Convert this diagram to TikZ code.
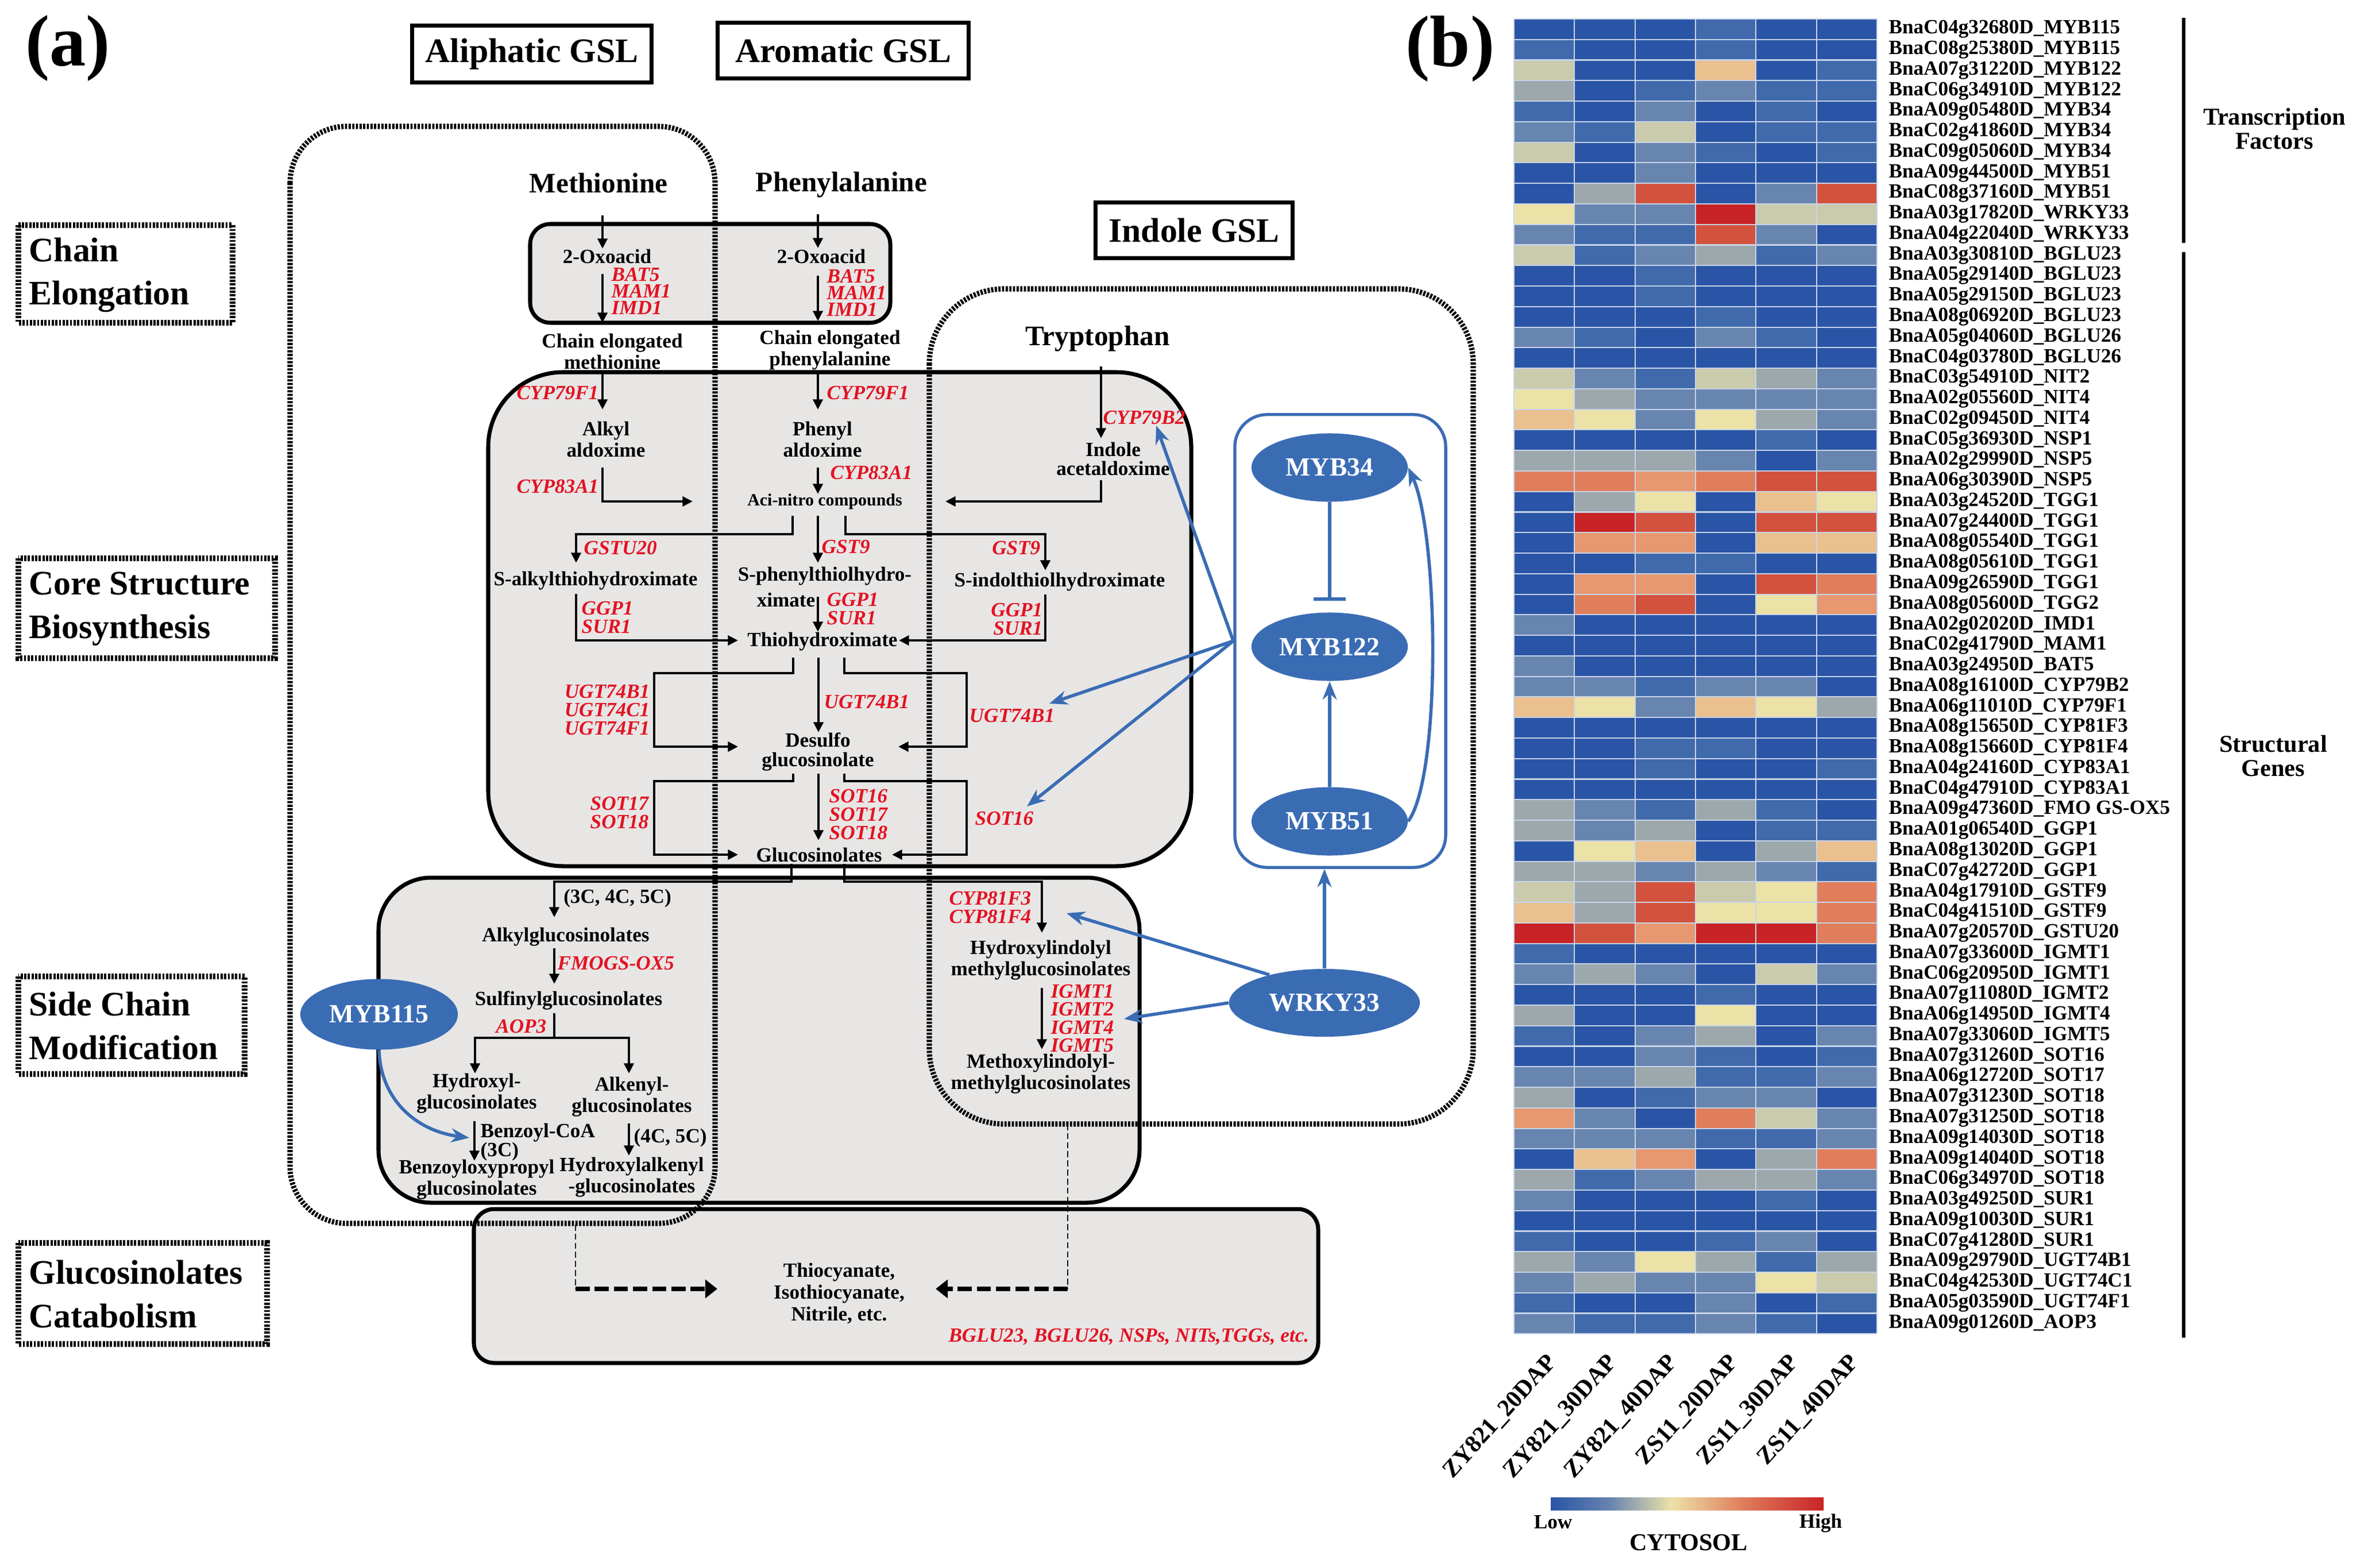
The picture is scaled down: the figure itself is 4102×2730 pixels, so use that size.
\documentclass[tikz,border=0pt]{standalone}
\usepackage{fontspec}
\setmainfont{Liberation Serif}
\usetikzlibrary{arrows.meta,shapes.geometric}
\definecolor{gbox}{RGB}{231,230,229}
\definecolor{gred}{RGB}{228,18,34}
\definecolor{mblue}{RGB}{58,108,180}
\definecolor{hB}{RGB}{42,85,166}
\definecolor{hb}{RGB}{64,106,172}
\definecolor{hg}{RGB}{104,133,176}
\definecolor{hs}{RGB}{156,168,172}
\definecolor{hy}{RGB}{202,202,172}
\definecolor{hl}{RGB}{236,226,168}
\definecolor{hp}{RGB}{234,192,142}
\definecolor{hq}{RGB}{231,152,112}
\definecolor{ho}{RGB}{224,126,92}
\definecolor{hr}{RGB}{211,82,62}
\definecolor{hR}{RGB}{200,35,38}
\definecolor{hgrid}{RGB}{200,212,232}
\pgfdeclarehorizontalshading{cbar}{100bp}{color(0bp)=(hB); color(25bp)=(hB); color(36bp)=(hg); color(47bp)=(hl); color(60bp)=(ho); color(75bp)=(hR); color(100bp)=(hR)}
\begin{document}
\begin{tikzpicture}[x=0.01cm,y=-0.01cm,
  cmp/.style={font=\fontsize{10}{10.5}\selectfont\bfseries, align=center, inner sep=0pt},
  big/.style={font=\fontsize{14}{16}\selectfont\bfseries, inner sep=0pt},
  gene/.style={font=\fontsize{10}{9}\selectfont\bfseries\itshape, text=gred, inner sep=0pt},
  arr/.style={line width=1.2pt, -{Triangle[length=5pt,width=4.8pt]}},
  ln/.style={line width=1.2pt},
  gbx/.style={draw=black, line width=2pt, fill=gbox},
  dotbox/.style={draw=black, line width=2.6pt, dash pattern=on 1.1pt off 0.7pt},
  ttl/.style={draw=black, line width=2pt, font=\fontsize{17}{20}\selectfont\bfseries, inner sep=0pt},
  ell/.style={ellipse, fill=mblue, text=white, font=\fontsize{13}{14}\selectfont\bfseries, inner sep=0pt},
  barr/.style={draw=mblue, line width=1.6pt, -{Stealth[length=9pt,width=7pt]}},
  lbl/.style={font=\fontsize{17}{21.5}\selectfont\bfseries, align=left, inner sep=0pt, anchor=west},
  thindash/.style={line width=0.8pt, dash pattern=on 3pt off 1.5pt},
  thickdash/.style={line width=2.4pt, dash pattern=on 7pt off 2.5pt, -{Triangle[length=6pt,width=9pt]}},
  hlab/.style={font=\fontsize{10}{11}\selectfont\bfseries, inner sep=0pt, anchor=west},
]
\fill[white] (0,0) rectangle (4102,2730);
\useasboundingbox (0,0) rectangle (4102,2730);

% ---------- panel labels and titles ----------
\node[font=\fontsize{36}{40}\selectfont\bfseries, inner sep=0pt] (pa) at (118,84) {(a)};
\node[font=\fontsize{36}{40}\selectfont\bfseries, inner sep=0pt] (pb) at (2525,85) {(b)};
\node[ttl, minimum width=4.17cm, minimum height=0.99cm] (tAli) at (926,94) {Aliphatic GSL};
\node[ttl, minimum width=4.37cm, minimum height=0.97cm] (tAro) at (1468,88) {Aromatic GSL};
\node[ttl, minimum width=3.42cm, minimum height=0.97cm] (tInd) at (2079,401) {Indole GSL};

% ---------- left stage labels ----------
\draw[dotbox] (32,392) rectangle (405,562);
\node[lbl] (lce) at (50,479) {Chain\\Elongation};
\draw[dotbox] (32,972) rectangle (479,1146);
\node[lbl] (lcs) at (50,1060) {Core Structure\\Biosynthesis};
\draw[dotbox] (32,1700) rectangle (426,1870);
\node[lbl] (lsc) at (50,1786) {Side Chain\\Modification};
\draw[dotbox] (32,2164) rectangle (465,2340);
\node[lbl] (lgc) at (50,2253) {Glucosinolates\\Catabolism};

% ---------- grey stage boxes ----------
\draw[gbx, rounded corners=10pt] (923,390) rectangle (1550,562);
\draw[gbx, rounded corners=37pt] (850,648) rectangle (2074,1508);
\draw[gbx, rounded corners=26pt] (659,1528) rectangle (1984,2094);
\draw[gbx, rounded corners=10pt] (825,2105) rectangle (2295,2373);

% ---------- dotted group boxes ----------
\draw[dotbox, rounded corners=28pt] (505,220) rectangle (1245,2130);
\draw[dotbox, rounded corners=37pt] (1618,503) rectangle (2565,1957);

% ---------- MYB network box ----------
\node[draw=mblue, line width=1.5pt, rounded corners=16pt, minimum width=3.67cm, minimum height=7.88cm, inner sep=0pt] (mybbox) at (2333.5,1116) {};

% ---------- compound texts ----------
\node[big] (met) at (1042,319) {Methionine};
\node[big] (phen) at (1465,322) {Phenylalanine};
\node[big] (tryp) at (1911,590) {Tryptophan};
\node[cmp] (oxa) at (1057,446) {2-Oxoacid};
\node[cmp] (oxb) at (1430,446) {2-Oxoacid};
\node[cmp] (cea) at (1066,612) {Chain elongated\\methionine};
\node[cmp] (ceb) at (1445,610) {Chain elongated\\phenylalanine};
\node[cmp] (alko) at (1055,765) {Alkyl\\aldoxime};
\node[cmp] (pheo) at (1432,765) {Phenyl\\aldoxime};
\node[cmp, font=\fontsize{10}{9.2}\selectfont\bfseries] (indo) at (1938,799) {Indole\\acetaldoxime};
\node[cmp, font=\fontsize{8.5}{9}\selectfont\bfseries] (aci) at (1436,873) {Aci-nitro compounds};
\node[cmp] (salk) at (1037,1011) {S-alkylthiohydroximate};
\node[cmp] (sphe) at (1436,1003) {S-phenylthiolhydro-};
\node[cmp, anchor=east] (sphe2) at (1420,1044) {ximate};
\node[cmp] (sind) at (1845,1013) {S-indolthiolhydroximate};
\node[cmp] (thio) at (1432,1117) {Thiohydroximate};
\node[cmp, font=\fontsize{10}{9.8}\selectfont\bfseries] (desu) at (1424,1309) {Desulfo\\glucosinolate};
\node[cmp] (gluc) at (1426,1488) {Glucosinolates};
\node[cmp] (c345) at (1075,1564) {(3C, 4C, 5C)};
\node[cmp] (alkg) at (985,1631) {Alkylglucosinolates};
\node[cmp] (sulf) at (990,1742) {Sulfinylglucosinolates};
\node[cmp] (hydg) at (830,1904) {Hydroxyl-\\glucosinolates};
\node[cmp] (alkeg) at (1100,1910) {Alkenyl-\\glucosinolates};
\node[cmp, anchor=west] (bcoa) at (836,1972) {Benzoyl-CoA};
\node[cmp, anchor=west] (c3c) at (836,2005) {(3C)};
\node[cmp] (benz) at (830,2054) {Benzoyloxypropyl\\glucosinolates};
\node[cmp, anchor=west] (c45) at (1103,1981) {(4C, 5C)};
\node[cmp] (hyda) at (1100,2050) {Hydroxylalkenyl\\-glucosinolates};
\node[cmp] (hil) at (1812,1672) {Hydroxylindolyl\\methylglucosinolates};
\node[cmp] (mil) at (1812,1870) {Methoxylindolyl-\\methylglucosinolates};
\node[cmp, font=\fontsize{10}{10.8}\selectfont\bfseries] (cat) at (1461,2252) {Thiocyanate,\\Isothiocyanate,\\Nitrile, etc.};

% ---------- gene labels ----------
\node[gene, anchor=west, align=left, font=\fontsize{10}{8.3}\selectfont\bfseries\itshape] (gA1) at (1064,507) {BAT5\\MAM1\\IMD1};
\node[gene, anchor=west, align=left, font=\fontsize{10}{8.3}\selectfont\bfseries\itshape] (gB1) at (1439,510) {BAT5\\MAM1\\IMD1};
\node[gene, anchor=east] (gA2) at (1043,684) {CYP79F1};
\node[gene, anchor=west] (gB2) at (1439,684) {CYP79F1};
\node[gene, anchor=east] (gA3) at (1043,847) {CYP83A1};
\node[gene, anchor=west] (gB3) at (1445,823) {CYP83A1};
\node[gene, anchor=west] (gC1) at (1920,727) {CYP79B2};
\node[gene, anchor=west] (gA4) at (1016,954) {GSTU20};
\node[gene, anchor=west] (gB4) at (1430,952) {GST9};
\node[gene, anchor=east] (gC4) at (1812,954) {GST9};
\node[gene, anchor=west, align=left] (gA5) at (1012,1075) {GGP1\\SUR1};
\node[gene, anchor=west, align=left] (gB5) at (1439,1060) {GGP1\\SUR1};
\node[gene, anchor=east, align=right] (gC5) at (1816,1078) {GGP1\\SUR1};
\node[gene, anchor=east, align=right] (gA6) at (1132,1236) {UGT74B1\\UGT74C1\\UGT74F1};
\node[gene, anchor=west] (gB6) at (1434,1222) {UGT74B1};
\node[gene, anchor=west] (gC6) at (1687,1246) {UGT74B1};
\node[gene, anchor=east, align=right] (gA7) at (1130,1415) {SOT17\\SOT18};
\node[gene, anchor=west, align=left] (gB7) at (1443,1418) {SOT16\\SOT17\\SOT18};
\node[gene, anchor=west] (gC7) at (1697,1425) {SOT16};
\node[gene, anchor=east, align=right] (gC8) at (1796,1580) {CYP81F3\\CYP81F4};
\node[gene, anchor=west] (gA8) at (970,1677) {FMOGS-OX5};
\node[gene, anchor=east] (gA9) at (952,1787) {AOP3};
\node[gene, anchor=west, align=left] (gC9) at (1829,1773) {IGMT1\\IGMT2\\IGMT4\\IGMT5};
\node[gene, anchor=east] (gcat) at (2280,2328) {BGLU23, BGLU26, NSPs, NITs,TGGs, etc.};

% ---------- black pathway connectors ----------
\coordinate (a1) at (1049,375); \coordinate (a2) at (1049,433);
\coordinate (a3) at (1049,477); \coordinate (a4) at (1049,562);
\coordinate (a5) at (1049,651); \coordinate (a6) at (1049,713);
\coordinate (a7) at (1049,814); \coordinate (a8) at (1206,873);
\draw[arr] (a1) -- (a2); \draw[arr] (a3) -- (a4); \draw[arr] (a5) -- (a6); \draw[arr] (a7) |- (a8);
\coordinate (p1) at (1424,373); \coordinate (p2) at (1424,432);
\coordinate (p3) at (1424,480); \coordinate (p4) at (1424,559);
\coordinate (p5) at (1424,651); \coordinate (p6) at (1424,713);
\coordinate (p7) at (1424,814); \coordinate (p8) at (1424,860);
\draw[arr] (p1) -- (p2); \draw[arr] (p3) -- (p4); \draw[arr] (p5) -- (p6); \draw[arr] (p7) -- (p8);
\coordinate (i1) at (1917,638); \coordinate (i2) at (1917,763);
\coordinate (i3) at (1917,836); \coordinate (i4) at (1646,873);
\draw[arr] (i1) -- (i2); \draw[arr] (i3) |- (i4);
\coordinate (b1) at (1380,898); \coordinate (b1a) at (1003,930); \coordinate (b1e) at (1003,980);
\coordinate (b2) at (1424,898); \coordinate (b2e) at (1424,980);
\coordinate (b3) at (1472,898); \coordinate (b3a) at (1820,930); \coordinate (b3e) at (1820,993);
\draw[arr] (b1) |- (b1a) -- (b1e); \draw[arr] (b2) -- (b2e); \draw[arr] (b3) |- (b3a) -- (b3e);
\coordinate (c1) at (1003,1034); \coordinate (c1e) at (1285,1115);
\coordinate (c2) at (1424,1039); \coordinate (c2e) at (1424,1100);
\coordinate (c3) at (1820,1035); \coordinate (c3e) at (1565,1115);
\draw[arr] (c1) |- (c1e); \draw[arr] (c2) -- (c2e); \draw[arr] (c3) |- (c3e);
\coordinate (d1) at (1381,1145); \coordinate (d1a) at (1139,1172); \coordinate (d1e) at (1285,1300);
\coordinate (d2) at (1425,1145); \coordinate (d2e) at (1425,1275);
\coordinate (d3) at (1470,1145); \coordinate (d3a) at (1683,1172); \coordinate (d3e) at (1564,1300);
\draw[arr] (d1) |- (d1a) |- (d1e); \draw[arr] (d2) -- (d2e); \draw[arr] (d3) |- (d3a) |- (d3e);
\coordinate (e1) at (1381,1347); \coordinate (e1a) at (1139,1360); \coordinate (e1e) at (1285,1488);
\coordinate (e2) at (1425,1347); \coordinate (e2e) at (1425,1463);
\coordinate (e3) at (1470,1347); \coordinate (e3a) at (1683,1360); \coordinate (e3e) at (1553,1488);
\draw[arr] (e1) |- (e1a) |- (e1e); \draw[arr] (e2) -- (e2e); \draw[arr] (e3) |- (e3a) |- (e3e);
\coordinate (f1) at (1378,1504); \coordinate (f1a) at (965,1535); \coordinate (f1e) at (965,1597);
\coordinate (f2) at (1470,1504); \coordinate (f2a) at (1814,1535); \coordinate (f2e) at (1814,1624);
\draw[arr] (f1) |- (f1a) -- (f1e); \draw[arr] (f2) |- (f2a) -- (f2e);
\coordinate (g1) at (965,1651); \coordinate (g1e) at (965,1713);
\coordinate (g2) at (965,1764); \coordinate (g2a) at (965,1807);
\coordinate (g2le) at (827,1869); \coordinate (g2re) at (1095,1869);
\coordinate (g3) at (826,1952); \coordinate (g3e) at (826,2021);
\coordinate (g4) at (1095,1956); \coordinate (g4e) at (1095,2012);
\coordinate (h1) at (1814,1720); \coordinate (h1e) at (1814,1827);
\draw[arr] (g1) -- (g1e); \draw[ln] (g2) -- (g2a);
\draw[arr] (g2a) -| (g2le); \draw[arr] (g2a) -| (g2re);
\draw[arr] (g3) -- (g3e); \draw[arr] (g4) -- (g4e); \draw[arr] (h1) -- (h1e);

% ---------- catabolism dashed connectors ----------
\coordinate (k1) at (1002,2132); \coordinate (k1a) at (1002,2244); \coordinate (k1e) at (1249,2244);
\coordinate (k2) at (1859,1957); \coordinate (k2a) at (1859,2244); \coordinate (k2e) at (1629,2244);
\draw[thindash] (k1) -- (k1a); \draw[thickdash] (k1a) -- (k1e);
\draw[thindash] (k2) -- (k2a); \draw[thickdash] (k2a) -- (k2e);

% ---------- regulators ----------
\node[ell, minimum width=2.72cm, minimum height=1.19cm] (MYB34) at (2315,814) {MYB34};
\node[ell, minimum width=2.72cm, minimum height=1.19cm] (MYB122) at (2315,1126) {MYB122};
\node[ell, minimum width=2.72cm, minimum height=1.19cm] (MYB51) at (2315,1430) {MYB51};
\node[ell, minimum width=3.32cm, minimum height=1.18cm] (WRKY33) at (2306,1746) {WRKY33};
\node[ell, minimum width=2.74cm, minimum height=1.23cm] (MYB115) at (660,1766) {MYB115};

\coordinate (barpt) at (2315,1046);
\draw[draw=mblue, line width=1.6pt, -{Bar[width=16pt,line width=1.6pt]}] (MYB34.south) -- (barpt);
\draw[barr] (MYB51.north) -- (MYB122.south);
\draw[barr] (MYB51.east) .. controls (2510,1350) and (2505,930) .. (MYB34.east);
\draw[barr] (WRKY33.north) -- (WRKY33.north |- mybbox.south);
\coordinate (tB2) at (2013,741); \coordinate (tU) at (1827,1225); \coordinate (tS) at (1788,1404);
\coordinate (tF) at (1857,1590); \coordinate (tI) at (1957,1774); \coordinate (tBz) at (817,1981);
\draw[barr] (mybbox.west) -- (tB2);
\draw[barr] (mybbox.west) -- (tU);
\draw[barr] (mybbox.west) -- (tS);
\draw[barr] (WRKY33.153) -- (tF);
\draw[barr] (WRKY33.west) -- (tI);
\draw[barr] (MYB115.south) .. controls (662,1910) and (720,1968) .. (tBz);

% ---------- heatmap ----------
\foreach \rw [count=\i] in {
{B,B,B,b,B,B},{b,B,B,b,B,B},{y,B,B,p,B,b},{s,B,b,g,b,b},{b,B,g,B,b,B},
{g,b,y,B,b,b},{y,B,g,b,B,b},{B,B,g,B,B,B},{B,s,r,B,g,r},{l,g,g,R,y,y},
{g,b,b,r,g,B},{y,b,g,s,b,g},{B,B,b,B,B,B},{B,B,b,B,B,B},{B,B,B,b,B,B},
{g,b,B,g,b,B},{B,B,B,B,B,B},{y,g,b,y,s,g},{l,s,g,g,g,g},{p,l,g,l,s,g},
{B,B,B,B,b,B},{s,s,s,g,B,g},{o,o,q,o,r,r},{B,s,l,B,p,l},{B,R,r,B,r,r},
{B,q,q,B,p,p},{B,B,b,b,B,B},{B,q,q,B,r,o},{B,o,r,B,l,q},{g,B,B,B,B,B},
{B,B,B,B,B,B},{g,B,B,B,B,B},{g,g,b,g,g,B},{p,l,g,p,l,s},{B,B,B,B,B,B},
{B,B,b,b,B,B},{B,B,b,B,B,b},{B,B,B,B,B,B},{s,g,b,s,b,B},{s,g,s,B,b,b},
{B,l,p,B,s,p},{s,s,g,s,g,b},{y,s,r,y,l,o},{p,s,r,l,l,o},{R,r,q,R,R,o},
{b,B,B,B,B,B},{g,s,g,B,y,g},{B,B,B,b,B,B},{s,B,B,l,B,B},{b,B,g,s,B,g},
{B,B,g,b,B,b},{g,g,s,b,b,g},{s,B,b,g,g,B},{q,g,B,o,y,g},{g,g,g,b,b,g},
{B,p,q,B,s,o},{s,b,g,s,s,g},{g,B,B,B,b,B},{B,B,B,B,B,B},{b,B,B,b,g,B},
{s,g,l,s,b,s},{g,s,g,g,l,y},{b,B,B,g,B,b},{g,b,b,g,b,B}}{
  \foreach \cc [count=\j] in \rw {
    \fill[fill=h\cc] ({2636+(\j-1)*105.33},{33+(\i-1)*35.77}) rectangle ({2636+\j*105.33},{33+\i*35.77});
  }
}
\foreach \j in {0,...,6} \draw[hgrid, line width=0.6pt] ({2636+\j*105.33},33) -- ({2636+\j*105.33},2322);
\foreach \i in {0,...,64} \draw[hgrid, line width=0.6pt] (2636,{33+\i*35.77}) -- (3268,{33+\i*35.77});

\foreach \lab [count=\i] in {
BnaC04g32680D\_MYB115, BnaC08g25380D\_MYB115, BnaA07g31220D\_MYB122, BnaC06g34910D\_MYB122,
BnaA09g05480D\_MYB34, BnaC02g41860D\_MYB34, BnaC09g05060D\_MYB34, BnaA09g44500D\_MYB51,
BnaC08g37160D\_MYB51, BnaA03g17820D\_WRKY33, BnaA04g22040D\_WRKY33, BnaA03g30810D\_BGLU23,
BnaA05g29140D\_BGLU23, BnaA05g29150D\_BGLU23, BnaA08g06920D\_BGLU23, BnaA05g04060D\_BGLU26,
BnaC04g03780D\_BGLU26, BnaC03g54910D\_NIT2, BnaA02g05560D\_NIT4, BnaC02g09450D\_NIT4,
BnaC05g36930D\_NSP1, BnaA02g29990D\_NSP5, BnaA06g30390D\_NSP5, BnaA03g24520D\_TGG1,
BnaA07g24400D\_TGG1, BnaA08g05540D\_TGG1, BnaA08g05610D\_TGG1, BnaA09g26590D\_TGG1,
BnaA08g05600D\_TGG2, BnaA02g02020D\_IMD1, BnaC02g41790D\_MAM1, BnaA03g24950D\_BAT5,
BnaA08g16100D\_CYP79B2, BnaA06g11010D\_CYP79F1, BnaA08g15650D\_CYP81F3, BnaA08g15660D\_CYP81F4,
BnaA04g24160D\_CYP83A1, BnaC04g47910D\_CYP83A1, BnaA09g47360D\_FMO GS-OX5, BnaA01g06540D\_GGP1,
BnaA08g13020D\_GGP1, BnaC07g42720D\_GGP1, BnaA04g17910D\_GSTF9, BnaC04g41510D\_GSTF9,
BnaA07g20570D\_GSTU20, BnaA07g33600D\_IGMT1, BnaC06g20950D\_IGMT1, BnaA07g11080D\_IGMT2,
BnaA06g14950D\_IGMT4, BnaA07g33060D\_IGMT5, BnaA07g31260D\_SOT16, BnaA06g12720D\_SOT17,
BnaA07g31230D\_SOT18, BnaA07g31250D\_SOT18, BnaA09g14030D\_SOT18, BnaA09g14040D\_SOT18,
BnaC06g34970D\_SOT18, BnaA03g49250D\_SUR1, BnaA09g10030D\_SUR1, BnaC07g41280D\_SUR1,
BnaA09g29790D\_UGT74B1, BnaC04g42530D\_UGT74C1, BnaA05g03590D\_UGT74F1, BnaA09g01260D\_AOP3}
  \node[hlab] (L\i) at (3288,{33+(\i-0.5)*35.77}) {\lab};

\foreach \lab [count=\j] in {ZY821\_20DAP, ZY821\_30DAP, ZY821\_40DAP, ZS11\_20DAP, ZS11\_30DAP, ZS11\_40DAP}
  \node[rotate=48, anchor=east, inner sep=0pt, font=\fontsize{12}{13}\selectfont\bfseries] (C\j) at ({2636+(\j-0.5)*105.33+15},2365) {\lab};

% group brackets
\coordinate (tf1) at (3802,31); \coordinate (tf2) at (3802,423);
\coordinate (sg1) at (3802,439); \coordinate (sg2) at (3802,2329);
\draw[line width=1.8pt] (tf1) -- (tf2);
\draw[line width=1.8pt] (sg1) -- (sg2);
\node[font=\fontsize{12}{12}\selectfont\bfseries, align=center, inner sep=0pt] (tfl) at (3960,224) {Transcription\\Factors};
\node[font=\fontsize{12}{12}\selectfont\bfseries, align=center, inner sep=0pt] (sgl) at (3958,1316) {Structural\\Genes};

% colour bar
\shade[shading=cbar] (2700,2607) rectangle (3175,2629);
\node[font=\fontsize{10}{11}\selectfont\bfseries, inner sep=0pt] (low) at (2704,2650) {Low};
\node[font=\fontsize{10}{11}\selectfont\bfseries, inner sep=0pt] (high) at (3170,2652) {High};
\node[font=\fontsize{12}{13}\selectfont\bfseries, inner sep=0pt] (cyto) at (2940,2686) {CYTOSOL};
\end{tikzpicture}
\end{document}
